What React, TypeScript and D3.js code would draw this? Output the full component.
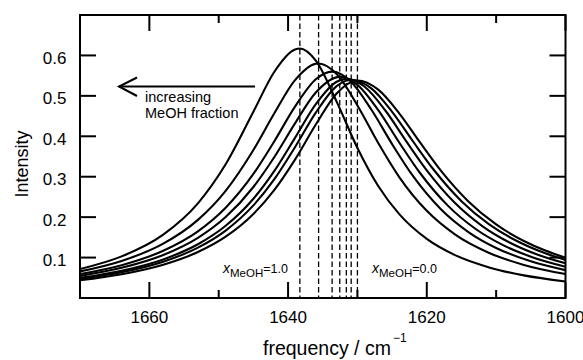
import React from "react";
import * as d3 from "d3";

type Pt = [number, number];

const xTicksMajor = [1660, 1640, 1620, 1600];
const xTicksMinor = [1650, 1630, 1610];
const yTicks = [0.1, 0.2, 0.3, 0.4, 0.5, 0.6];
const peakFreqs = [1638.3, 1635.6, 1633.65, 1632.55, 1631.6, 1630.9, 1630.0];

// x_MeOH = 1.0
const spec1: Pt[] = [
  [1670, 0.0717], [1664, 0.1029], [1658, 0.1568], [1653, 0.2342], [1649, 0.3307],
  [1645, 0.4607], [1642, 0.5591], [1639, 0.6147], [1638.3, 0.617], [1636, 0.5872],
  [1633, 0.4858], [1630, 0.3712], [1627, 0.277], [1624, 0.2081], [1620, 0.1462],
  [1616, 0.1067], [1611, 0.0756], [1606, 0.0559], [1600, 0.0409],
];
const spec2: Pt[] = [
  [1670, 0.0657], [1664, 0.0916], [1658, 0.1344], [1653, 0.1933], [1649, 0.2652],
  [1645, 0.3662], [1642, 0.4564], [1639, 0.5388], [1636, 0.5794], [1635.6, 0.58],
  [1633, 0.554], [1630, 0.4763], [1627, 0.3832], [1624, 0.2998], [1620, 0.2156],
  [1616, 0.1581], [1611, 0.1115], [1606, 0.0819], [1600, 0.0592],
];
const spec3: Pt[] = [
  [1670, 0.0592], [1664, 0.0812], [1658, 0.1168], [1653, 0.1649], [1649, 0.2233],
  [1645, 0.3069], [1642, 0.3872], [1639, 0.4733], [1636, 0.5409], [1633.65, 0.56],
  [1631, 0.5363], [1628, 0.4662], [1625, 0.3806], [1622, 0.3019], [1618, 0.2202],
  [1614, 0.1632], [1610, 0.1238], [1605, 0.0908], [1600, 0.0689],
];
const spec4: Pt[] = [
  [1670, 0.0548], [1664, 0.0746], [1658, 0.1063], [1653, 0.1488], [1649, 0.2002],
  [1645, 0.2746], [1642, 0.3481], [1639, 0.432], [1636, 0.5083], [1632.55, 0.547],
  [1630, 0.5273], [1627, 0.4648], [1624, 0.3853], [1621, 0.3098], [1617, 0.2291],
  [1613, 0.1713], [1609, 0.1308], [1605, 0.1021], [1600, 0.0773],
];
const spec5: Pt[] = [
  [1670, 0.0497], [1664, 0.0673], [1658, 0.0954], [1653, 0.1329], [1649, 0.1786],
  [1645, 0.2456], [1642, 0.3139], [1639, 0.3962], [1636, 0.4796], [1633, 0.535],
  [1631.6, 0.542], [1629, 0.5232], [1626, 0.4644], [1623, 0.3888], [1620, 0.3157],
  [1616, 0.236], [1612, 0.1779], [1608, 0.1366], [1604, 0.1071], [1600, 0.0858],
];
const spec6: Pt[] = [
  [1670, 0.0472], [1664, 0.0637], [1658, 0.0898], [1653, 0.1245], [1649, 0.1668],
  [1645, 0.229], [1642, 0.2932], [1639, 0.3729], [1636, 0.4585], [1633, 0.5242],
  [1630.9, 0.54], [1628, 0.5184], [1625, 0.4605], [1622, 0.3877], [1619, 0.3172],
  [1615, 0.2396], [1611, 0.1822], [1607, 0.1409], [1603, 0.1111], [1600, 0.0942],
];
// x_MeOH = 0.0
const spec7: Pt[] = [
  [1670, 0.0437], [1664, 0.0587], [1658, 0.0823], [1653, 0.1136], [1649, 0.1516],
  [1645, 0.2078], [1642, 0.2667], [1639, 0.3422], [1636, 0.429], [1633, 0.5058],
  [1630, 0.538], [1627, 0.5153], [1624, 0.4575], [1621, 0.3854], [1618, 0.3157],
  [1614, 0.2389], [1610, 0.182], [1606, 0.141], [1603, 0.1179], [1600, 0.0996],
];

const spectra = [spec1, spec2, spec3, spec4, spec5, spec6, spec7];

const FONT = "'Liberation Sans', Arial, Helvetica, sans-serif";

export default function App() {
  const W = 583;
  const H = 360;
  const left = 80;
  const right = 565.5;
  const top = 15;
  const bottom = 298;

  const x = d3.scaleLinear().domain([1670, 1600]).range([left, right]);
  const y = d3.scaleLinear().domain([0, 0.7]).range([bottom, top]);

  const line = d3
    .line<Pt>()
    .x((d) => x(d[0]))
    .y((d) => y(d[1]))
    .curve(d3.curveMonotoneX);

  return (
    <>
      <style>{`body{margin:0}`}</style>
      <svg width={W} height={H} style={{ display: "block", background: "#fff" }} fontFamily={FONT}>
        <defs>
          <clipPath id="plotClip">
            <rect x={left} y={top} width={right - left} height={bottom - top} />
          </clipPath>
        </defs>

        {/* dashed peak markers */}
        {peakFreqs.map((f, i) => (
          <line
            key={"dl" + i}
            x1={x(f)}
            x2={x(f)}
            y1={top}
            y2={bottom}
            stroke="#000"
            strokeWidth={1.3}
            strokeDasharray="5.5,3"
          />
        ))}

        {/* spectra */}
        <g clipPath="url(#plotClip)">
          {spectra.map((s, i) => (
            <path key={"sp" + i} d={line(s) || ""} fill="none" stroke="#000" strokeWidth={2.1} />
          ))}
        </g>

        {/* frame */}
        <rect x={left} y={top} width={right - left} height={bottom - top} fill="none" stroke="#000" strokeWidth={2} />

        {/* x ticks */}
        {xTicksMajor.map((t) => (
          <g key={"xm" + t}>
            <line x1={x(t)} x2={x(t)} y1={bottom} y2={bottom - 16} stroke="#000" strokeWidth={2} />
            <line x1={x(t)} x2={x(t)} y1={top} y2={top + 16} stroke="#000" strokeWidth={2} />
            <text x={x(t)} y={323} fontSize={17} textAnchor="middle" fill="#000">
              {t}
            </text>
          </g>
        ))}
        {xTicksMinor.map((t) => (
          <g key={"xn" + t}>
            <line x1={x(t)} x2={x(t)} y1={bottom} y2={bottom - 8} stroke="#000" strokeWidth={2} />
            <line x1={x(t)} x2={x(t)} y1={top} y2={top + 8} stroke="#000" strokeWidth={2} />
          </g>
        ))}

        {/* y ticks */}
        {yTicks.map((t) => (
          <g key={"y" + t}>
            <line x1={left} x2={left + 16} y1={y(t)} y2={y(t)} stroke="#000" strokeWidth={2} />
            <line x1={right} x2={right - 16} y1={y(t)} y2={y(t)} stroke="#000" strokeWidth={2} />
            <text x={66.5} y={y(t) + 8.5} fontSize={17} textAnchor="end" fill="#000">
              {t.toFixed(1)}
            </text>
          </g>
        ))}

        {/* axis titles */}
        <text transform="translate(28,164) rotate(-90)" fontSize={18} textAnchor="middle" fill="#000">
          Intensity
        </text>
        <text x={263} y={354.5} fontSize={19.5} fill="#000">
          frequency / cm
          <tspan fontSize={12} dx={2} dy={-13}>
            −1
          </tspan>
        </text>

        {/* arrow annotation */}
        <line x1={119} x2={255} y1={86.5} y2={86.5} stroke="#000" strokeWidth={2} />
        <polyline points="137,77.5 119,86.5 137,96" fill="none" stroke="#000" strokeWidth={2} />
        <text x={145} y={101.5} fontSize={14.5} fill="#000">
          increasing
        </text>
        <text x={145} y={117.5} fontSize={14.5} fill="#000">
          MeOH fraction
        </text>

        {/* x_MeOH labels */}
        <text x={223} y={273.3} fontSize={12.5} fill="#000">
          <tspan fontStyle="italic" fontSize={14}>x</tspan>
          <tspan fontSize={11.5} dy={4}>MeOH</tspan>
          <tspan dy={-4}>=1.0</tspan>
        </text>
        <text x={372} y={273.3} fontSize={12.5} fill="#000">
          <tspan fontStyle="italic" fontSize={14}>x</tspan>
          <tspan fontSize={11.5} dy={4}>MeOH</tspan>
          <tspan dy={-4}>=0.0</tspan>
        </text>
      </svg>
    </>
  );
}
